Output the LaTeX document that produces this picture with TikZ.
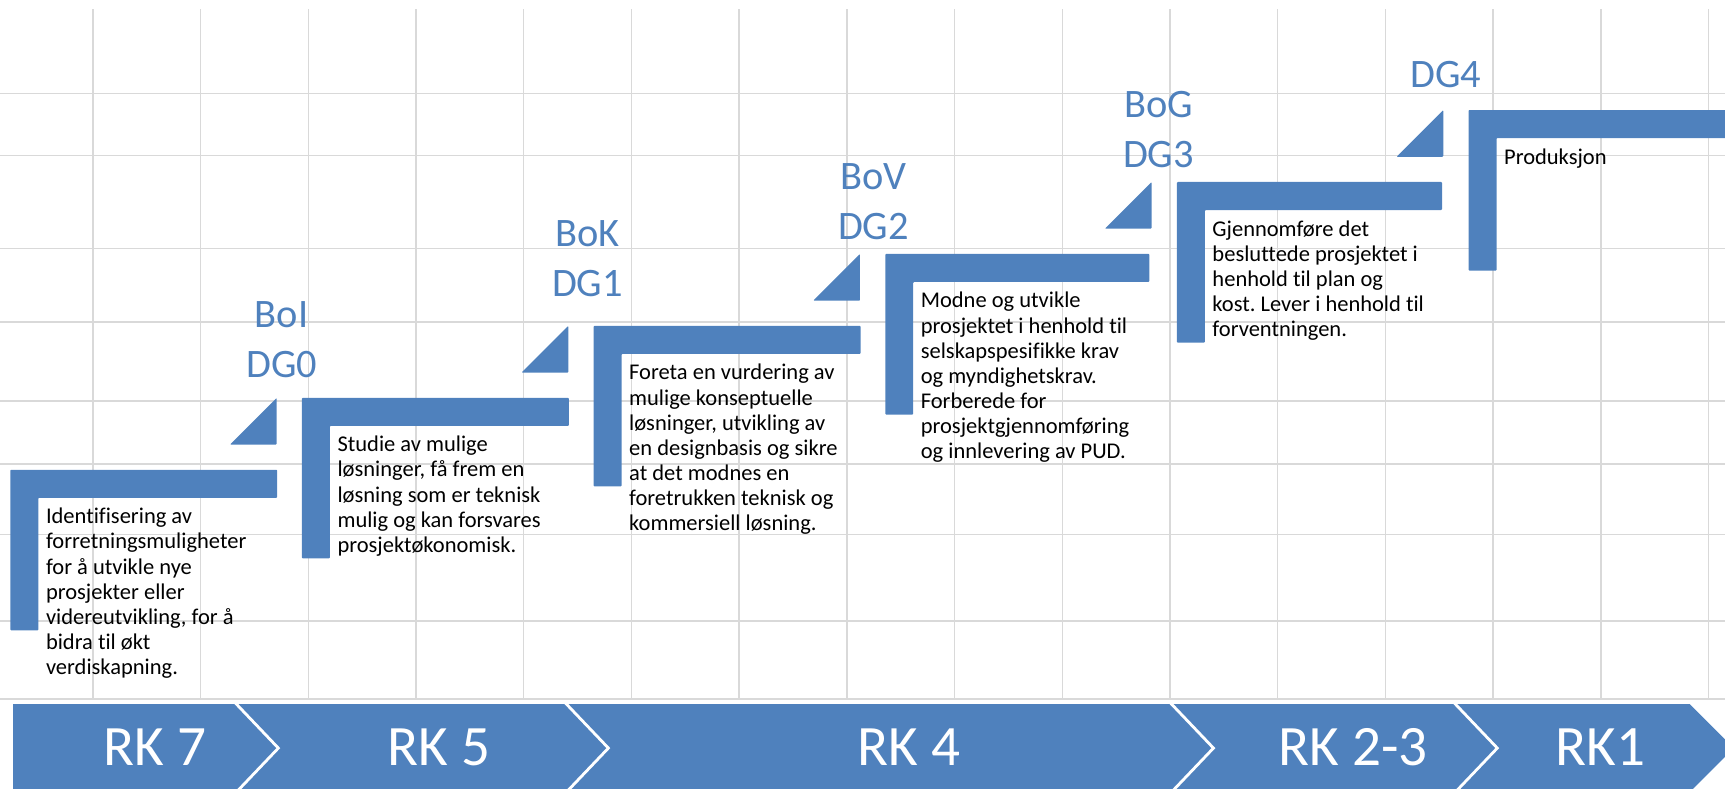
\documentclass[tikz,border=0pt]{standalone}
\usepackage{fontspec}
\setmainfont{Carlito}[RawFeature={-liga;-clig;-calt}]
\frenchspacing
\definecolor{stepblue}{HTML}{4F81BD}
\definecolor{gridgray}{HTML}{D9D9D9}
\tikzset{
	stepbar/.style={fill=stepblue, rounded corners=0.5pt},
	desc/.style={anchor=north west, align=left, inner sep=0pt, font=\fontsize{12.8}{14.3}\selectfont},
	gate/.style={anchor=south, align=center, inner sep=0pt, text=stepblue, font=\fontsize{23}{28.5}\selectfont},
	rk/.style={anchor=base, inner sep=0pt, text=white, font=\fontsize{32.5}{36}\selectfont}
}

\begin{document}
\begin{tikzpicture}[x=0.22mm, y=-0.22mm]
	\clip (0,0) rectangle (1568,717);
	%grid
	\foreach \gx in {0,...,15} \draw[gridgray, line width=0.8pt] ({84.5+97.9*\gx},8.5)--({84.5+97.9*\gx},635.5);
	\foreach \gy in {84.8,141.5,226,292.7,364.5,421.8,485.8,564.5,635.5} \draw[gridgray, line width=0.8pt] (0,\gy)--(1568,\gy);
	
	%steps
	\foreach \k/\w in {0/242.6,1/242.6,2/242.6,3/240,4/241,5/300}
		\fill[stepbar] ({9.4+265.1*\k},{427-65.4*\k}) -- ++(\w,0) -- ++(0,25.5) -- ++({25.4-\w},0) -- ++(0,120.5) -- ++(-25.4,0) -- cycle;
	\foreach \k in {0,...,4}
		\fill[stepbar] ({251.5+265.1*\k},{361.6-65.4*\k}) -- ++(0,42.5) -- ++(-42.5,0) -- cycle;
	
	%gates
	\node[gate] (dg0) at (256,344) {BoI\\DG0};
	\node[gate] (dg1) at (534,270) {BoK\\DG1};
	\node[gate] (dg2) at (794,218) {BoV\\DG2};
	\node[gate] (dg3) at (1053,153) {BoG\\DG3};
	\node[gate] (dg4) at (1314,80) {DG4};
	
	%texts
	\node[desc] (identify) at (41.5,461.6) {Identifisering av\\forretningsmuligheter\\for å utvikle nye\\prosjekter eller\\videreutvikling, for å\\bidra til økt\\verdiskapning.};
	\node[desc] (study) at (306.5,396.2) {Studie av mulige\\løsninger, få frem en\\løsning som er teknisk\\mulig og kan forsvares\\prosjektøkonomisk.};
	\node[desc] (concept) at (571.6,330.8) {Foreta en vurdering av\\mulige konseptuelle\\løsninger, utvikling av\\en designbasis og sikre\\at det modnes en\\foretrukken teknisk og\\kommersiell løsning.};
	\node[desc] (define) at (836.7,265.4) {Modne og utvikle\\prosjektet i henhold til\\selskapspesifikke krav\\og myndighetskrav.\\Forberede for\\prosjektgjennomføring\\og innlevering av PUD.};
	\node[desc] (execute) at (1101.8,200) {Gjennomføre det\\besluttede prosjektet i\\henhold til plan og\\kost. Lever i henhold til\\forventningen.};
	\node[desc] (operate) at (1366.9,134.6) {Produksjon};
	
	%phases
	\fill[stepblue] (12,640) -- (1536,640) -- (1576,680) -- (1536,720) -- (12,720) -- cycle;
	\foreach \cx in {213,513,1063,1321} \draw[white, line width=1.6pt] (\cx,638) -- ({\cx+40},680) -- (\cx,722);
	\node[rk] (rk7) at (141,695.5) {RK 7};
	\node[rk] (rk5) at (399,695.5) {RK 5};
	\node[rk] (rk4) at (826,695.5) {RK 4};
	\node[rk] (rk23) at (1230,695.5) {RK 2-3};
	\node[rk] (rk1) at (1455,695.5) {RK1};
\end{tikzpicture}
\end{document}
